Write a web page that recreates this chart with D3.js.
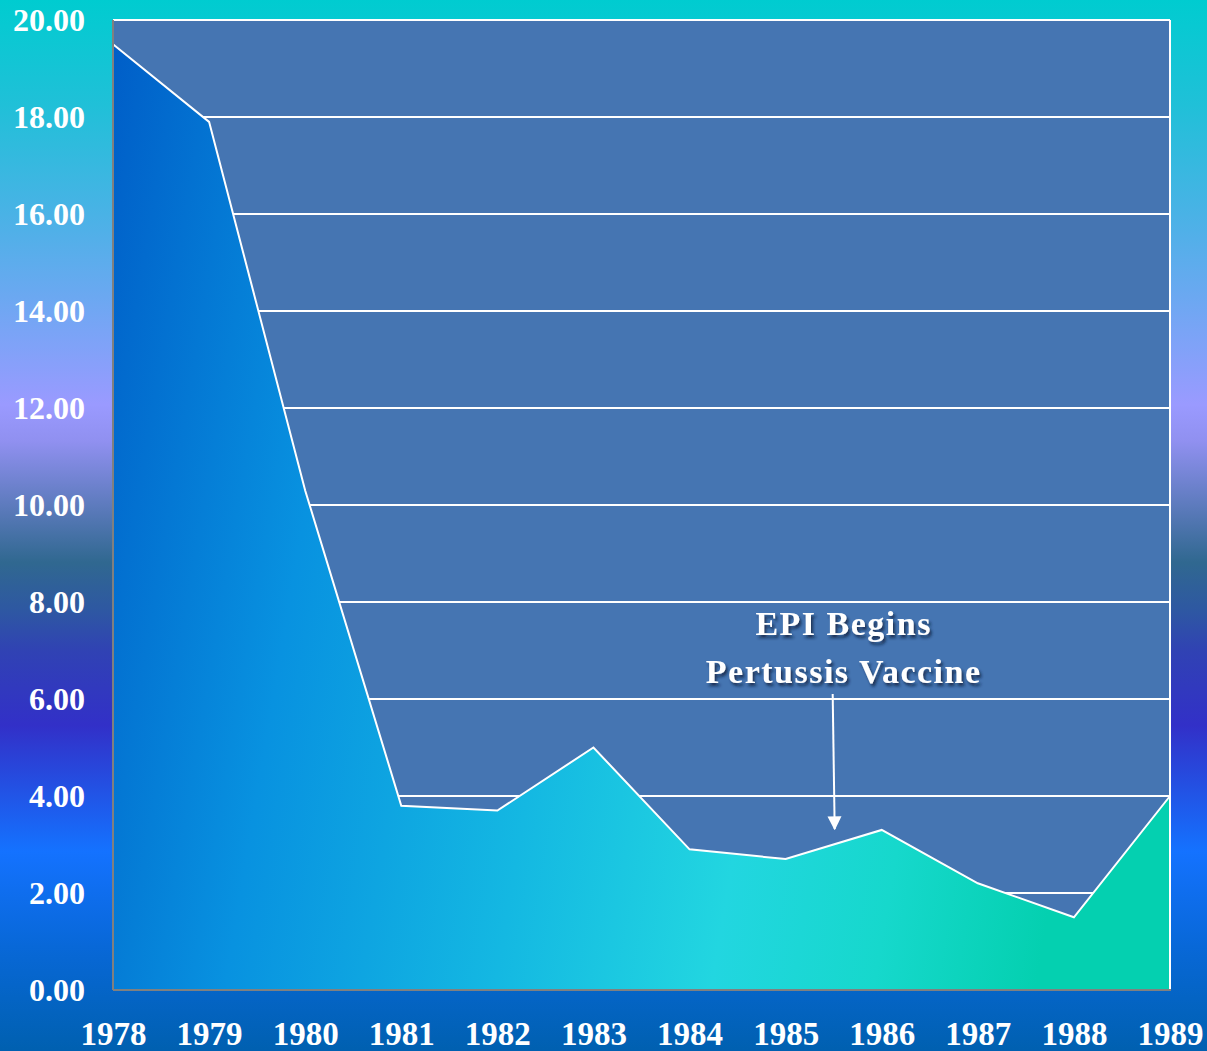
<!DOCTYPE html>
<html><head><meta charset="utf-8">
<script src="https://cdn.jsdelivr.net/npm/d3@7"></script>
<style>html,body{margin:0;padding:0;background:#0060b0;}svg{display:block;}</style>
</head><body>
<svg id="chart" width="1207" height="1051"></svg>
<script>
const years = [1978,1979,1980,1981,1982,1983,1984,1985,1986,1987,1988,1989];
const rates = [19.5,17.9,10.3,3.8,3.7,5.0,2.9,2.7,3.3,2.2,1.5,4.0];
const yTicks = [0,2,4,6,8,10,12,14,16,18,20];
const annotationLines = ["EPI Begins","Pertussis Vaccine"];
const annotationYear = 1985.5;
const annotationValue = 3.3;

const svg = d3.select("#chart");
const W = 1207, H = 1051;
const m = {left:113, right:37, top:20, bottom:61};
const x = d3.scaleLinear().domain([1978,1989]).range([m.left, W - m.right]);
const y = d3.scaleLinear().domain([0,20]).range([H - m.bottom, m.top]);
const defs = svg.append("defs");

const bg = defs.append("linearGradient").attr("id","bg").attr("x1",0).attr("y1",0).attr("x2",0).attr("y2",1);
[[0,"#00ccd0"],[0.1,"#20c0d8"],[0.22,"#50b0e8"],[0.33,"#80a2f8"],[0.385,"#9a9aff"],[0.42,"#9090f0"],[0.535,"#306890"],[0.58,"#2e58a2"],[0.62,"#3042b4"],[0.69,"#3230c8"],[0.81,"#1472ff"],[0.9,"#0868d8"],[1,"#0060b0"]]
  .forEach(([o,c]) => bg.append("stop").attr("offset",o).attr("stop-color",c));

const ag = defs.append("linearGradient").attr("id","area").attr("x1",0).attr("y1",0).attr("x2",1).attr("y2",0.15);
[[0,"#005ec8"],[0.25,"#0892e0"],[0.5,"#14b8e2"],[0.7,"#22d6e0"],[0.85,"#16d8cc"],[1,"#04d0b0"]]
  .forEach(([o,c]) => ag.append("stop").attr("offset",o).attr("stop-color",c));

const sh = defs.append("filter").attr("id","shadow").attr("x","-10%").attr("y","-30%").attr("width","130%").attr("height","170%");
sh.append("feDropShadow").attr("dx",2).attr("dy",3).attr("stdDeviation",1.5).attr("flood-color","#102040").attr("flood-opacity",0.8);

svg.append("rect").attr("width",W).attr("height",H).attr("fill","url(#bg)");

// plot area
svg.append("rect").attr("x",x(1978)).attr("y",y(20)).attr("width",x(1989)-x(1978)).attr("height",y(0)-y(20)).attr("fill","#4575b2");

// gridlines
svg.append("g").selectAll("line").data(yTicks.filter(d=>d>0 && d<20)).join("line")
  .attr("x1",x(1978)).attr("x2",x(1989)).attr("y1",d=>y(d)).attr("y2",d=>y(d))
  .attr("stroke","#ffffff").attr("stroke-width",2);

// area
const pts = years.map((yr,i)=>({yr, v:rates[i]}));
svg.append("path").datum(pts)
  .attr("d", d3.area().x(d=>x(d.yr)).y0(y(0)).y1(d=>y(d.v)))
  .attr("fill","url(#area)");
svg.append("path").datum(pts)
  .attr("d", d3.line().x(d=>x(d.yr)).y(d=>y(d.v)))
  .attr("fill","none").attr("stroke","#ffffff").attr("stroke-width",2);

// borders
svg.append("line").attr("x1",x(1978)).attr("x2",x(1989)).attr("y1",y(20)).attr("y2",y(20)).attr("stroke","#fff").attr("stroke-width",2);
svg.append("line").attr("x1",x(1989)).attr("x2",x(1989)).attr("y1",y(20)).attr("y2",y(0)).attr("stroke","#fff").attr("stroke-width",2);
svg.append("line").attr("x1",x(1978)).attr("x2",x(1978)).attr("y1",y(20)).attr("y2",y(0)).attr("stroke","#808080").attr("stroke-width",2);
svg.append("line").attr("x1",x(1978)).attr("x2",x(1989)+1).attr("y1",y(0)).attr("y2",y(0)).attr("stroke","#808080").attr("stroke-width",2);

// axes
const font = "'Liberation Serif','Times New Roman',serif";
const yAxis = d3.axisLeft(y).tickValues(yTicks).tickFormat(d=>d3.format(".2f")(d)).tickSize(0).tickPadding(28);
const gy = svg.append("g").attr("transform",`translate(${x(1978)},0)`).call(yAxis);
gy.select(".domain").remove();
gy.selectAll("text").attr("fill","#fff").attr("font-family",font).attr("font-weight","bold").attr("font-size",32).attr("dy","0.33em");

const xAxis = d3.axisBottom(x).tickValues(years).tickFormat(d3.format("d")).tickSize(0).tickPadding(42);
const gx = svg.append("g").attr("transform",`translate(0,${y(0)})`).call(xAxis);
gx.select(".domain").remove();
gx.selectAll("text").attr("fill","#fff").attr("font-family",font).attr("font-weight","bold").attr("font-size",33).attr("dy","0.4em");

// annotation
const ax = x(annotationYear);
const at = svg.append("text").attr("text-anchor","middle").attr("font-family",font).attr("font-weight","bold")
  .attr("font-size",34).attr("letter-spacing",1.5).attr("fill","#fff").attr("filter","url(#shadow)");
at.selectAll("tspan").data(annotationLines).join("tspan")
  .attr("x", ax + 10).attr("y",(d,i)=> 635 + i*48).text(d=>d);

defs.append("marker").attr("id","arrow").attr("viewBox","0 0 10 10").attr("refX",9).attr("refY",5)
  .attr("markerWidth",7).attr("markerHeight",8).attr("markerUnits","strokeWidth").attr("orient","auto")
  .append("path").attr("d","M0,0 L10,5 L0,10 z").attr("fill","#fff");
svg.append("line").attr("x1",ax-1).attr("y1",694).attr("x2",ax+1).attr("y2",y(annotationValue)-1)
  .attr("stroke","#fff").attr("stroke-width",2).attr("marker-end","url(#arrow)");
</script>
</body></html>
